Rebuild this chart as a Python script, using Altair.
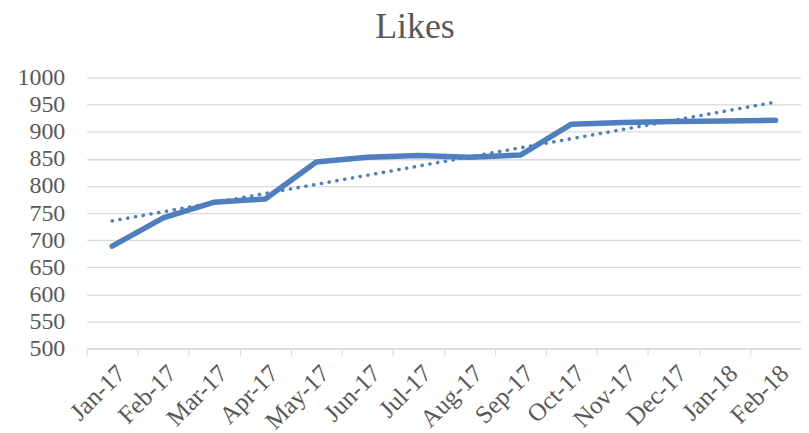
import altair as alt
import pandas as pd

months = ["Jan-17", "Feb-17", "Mar-17", "Apr-17", "May-17", "Jun-17", "Jul-17",
          "Aug-17", "Sep-17", "Oct-17", "Nov-17", "Dec-17", "Jan-18", "Feb-18"]
likes = [689, 741, 770, 776, 844, 853, 856, 853, 857, 914, 917, 919, 920, 921]
y_ticks = list(range(500, 1001, 50))

df = pd.DataFrame({"month": months, "likes": likes, "idx": list(range(len(months)))})

FONT = "Liberation Serif"
GREY = "#595959"
GRID = "#D9D9D9"
BLUE = "#4F7FBF"

x_axis = alt.Axis(labelAngle=-45, tickBand="extent", grid=False,
                  domainColor=GRID, tickColor=GRID, tickSize=7,
                  labelFont=FONT, labelFontSize=25, labelColor=GREY,
                  labelPadding=5, labelOverlap=False)
x_scale = alt.Scale(paddingInner=0, paddingOuter=0)
y_scale = alt.Scale(domain=[500, 1000], nice=False, zero=False)
y_axis = alt.Axis(values=y_ticks, ticks=False, domain=False, gridColor=GRID,
                  gridWidth=1.3, labelFont=FONT, labelFontSize=24, labelColor=GREY,
                  labelPadding=22, labelOverlap=False, format="d")

line = alt.Chart(df).mark_line(color=BLUE, strokeWidth=5.5, strokeCap="round",
                               strokeJoin="round").encode(
    x=alt.X("month:O", sort=months, title=None, scale=x_scale, axis=x_axis),
    y=alt.Y("likes:Q", scale=y_scale, axis=y_axis, title=None),
)

trend = alt.Chart(df).transform_regression(
    "idx", "likes", method="linear"
).transform_calculate(
    month=f"{months}[round(datum.idx)]"
).mark_line(color=BLUE, strokeWidth=3.6, strokeDash=[0.1, 7.8], strokeCap="round").encode(
    x=alt.X("month:O", sort=months, title=None, scale=x_scale, axis=x_axis),
    y=alt.Y("likes:Q", scale=y_scale, axis=y_axis, title=None),
)

chart = alt.layer(line, trend).properties(
    width=717, height=272,
    title=alt.TitleParams("Likes", font=FONT, fontSize=36, fontWeight="normal",
                          color=GREY, anchor="middle", dx=-29, offset=20),
    autosize=alt.AutoSizeParams(type="none"),
    padding={"left": 79, "top": 69, "right": 0, "bottom": 84},
).configure_view(stroke=None)

chart.save("out.html", embed_options={"renderer": "svg", "actions": False})
